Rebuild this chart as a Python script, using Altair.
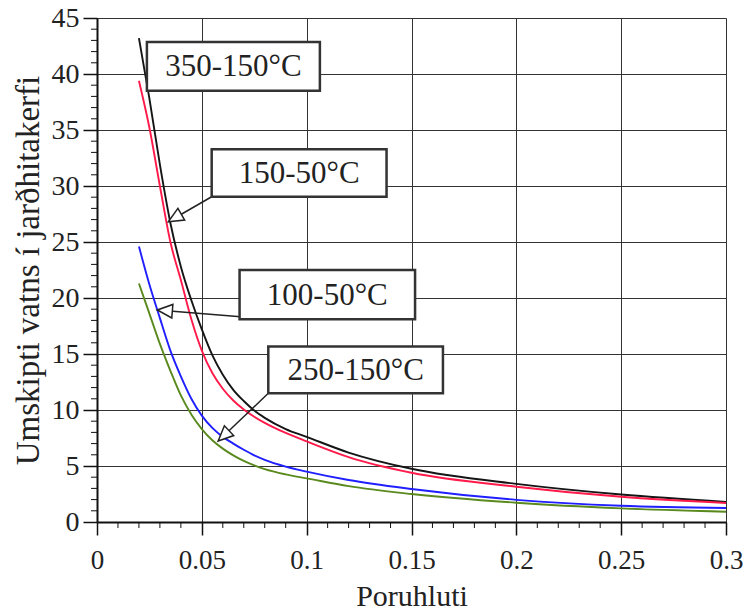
import math
import altair as alt
import pandas as pd

# ---------------- data ----------------
x_vals = [0.02, 0.025, 0.03, 0.035, 0.04, 0.045, 0.05, 0.055, 0.06, 0.065, 0.07,
          0.075, 0.08, 0.09, 0.10, 0.12, 0.15, 0.20, 0.25, 0.30]

series_names = ["350-150°C", "150-50°C", "100-50°C", "250-150°C"]
y_350_150 = [43.2, 37.8, 31.9, 26.7, 22.8, 19.8, 17.2, 14.9, 13.15, 11.8, 10.8,
             9.95, 9.3, 8.3, 7.6, 6.2, 4.75, 3.4, 2.45, 1.8]
y_150_50 = [39.4, 35.2, 30.0, 25.0, 21.6, 18.1, 15.3, 13.3, 11.9, 10.85, 10.05,
            9.4, 8.85, 7.95, 7.2, 5.8, 4.4, 3.15, 2.25, 1.7]
y_100_50 = [24.6, 21.2, 18.2, 15.3, 13.0, 11.0, 9.5, 8.4, 7.6, 7.0, 6.45,
            5.95, 5.55, 4.95, 4.5, 3.75, 2.95, 1.98, 1.45, 1.25]
y_250_150 = [21.3, 18.6, 15.9, 13.5, 11.3, 9.6, 8.3, 7.3, 6.55, 5.95, 5.45,
             5.05, 4.72, 4.25, 3.9, 3.2, 2.5, 1.72, 1.22, 0.92]
series_colors = ["#151515", "#ff1a4a", "#1f1fff", "#5a8a1e"]

x_ticks = [0, 0.05, 0.1, 0.15, 0.2, 0.25, 0.3]
y_ticks = [0, 5, 10, 15, 20, 25, 30, 35, 40, 45]
x_minor = [i / 100 for i in range(31) if i % 5 != 0]
y_minor = [i for i in range(46) if i % 5 != 0]

# annotation boxes (data coordinates)
ann_labels = ["350-150°C", "150-50°C", "100-50°C", "250-150°C"]
box_x1 = [0.0238, 0.0547, 0.0680, 0.0817]
box_x2 = [0.1063, 0.1381, 0.1517, 0.1650]
box_y1 = [42.86, 33.28, 22.5, 15.67]
box_y2 = [38.5, 29.04, 18.1, 11.49]

# arrows (from box corner to curve)
arr_x0 = [0.0547, 0.0685, 0.0817]
arr_y0 = [29.04, 18.33, 11.49]
arr_x1 = [0.0340, 0.0288, 0.0578]
arr_y1 = [26.81, 18.93, 7.23]

# ---------------- build ----------------
W, H = 629, 504
XMAX, YMAX = 0.3, 45

rows = []
for name, ys in zip(series_names, [y_350_150, y_150_50, y_100_50, y_250_150]):
    for xv, yv in zip(x_vals, ys):
        rows.append({"x": xv, "y": yv, "series": name})
df = pd.DataFrame(rows)

boxes = pd.DataFrame({
    "label": ann_labels, "x1": box_x1, "x2": box_x2, "y1": box_y1, "y2": box_y2,
    "xc": [(a + b) / 2 for a, b in zip(box_x1, box_x2)],
    "yc": [(a + b) / 2 for a, b in zip(box_y1, box_y2)],
})

kx, ky = W / XMAX, H / YMAX
angles = []
for a, b, c, d in zip(arr_x0, arr_y0, arr_x1, arr_y1):
    dx = (c - a) * kx
    dy = -(d - b) * ky
    angles.append(math.degrees(math.atan2(dx, -dy)) % 360)
arrows = pd.DataFrame({"x0": arr_x0, "y0": arr_y0, "x1": arr_x1, "y1": arr_y1,
                       "ang": angles})

xs = alt.Scale(domain=[0, XMAX], nice=False, zero=False)
ys_ = alt.Scale(domain=[0, YMAX], nice=False, zero=False)

FONT = "Liberation Serif, Times New Roman, Times, serif"

x_axis = alt.Axis(values=x_ticks, format=".2~f", title="Poruhluti",
                  tickSize=13, tickWidth=1.5, tickColor="#111",
                  domainColor="#111", domainWidth=2,
                  grid=True, gridColor="#333", gridWidth=1,
                  labelFont=FONT, labelFontSize=27, labelColor="#222", labelPadding=12,
                  titleFont=FONT, titleFontSize=30, titleFontWeight="normal",
                  titleColor="#222", titlePadding=8, labelFlush=False)
y_axis = alt.Axis(values=y_ticks, title="Umskipti vatns í jarðhitakerfi",
                  tickSize=14, tickWidth=1.5, tickColor="#111",
                  domainColor="#111", domainWidth=2,
                  grid=True, gridColor="#333", gridWidth=1,
                  labelFont=FONT, labelFontSize=28, labelColor="#222", labelPadding=4,
                  titleFont=FONT, titleFontSize=33, titleFontWeight="normal",
                  titleColor="#222", titlePadding=6, labelFlush=False)

lines = alt.Chart(df).mark_line(strokeWidth=1.9, interpolate="monotone", clip=True).encode(
    x=alt.X("x:Q", scale=xs, axis=x_axis),
    y=alt.Y("y:Q", scale=ys_, axis=y_axis),
    color=alt.Color("series:N", scale=alt.Scale(domain=series_names, range=series_colors),
                    legend=None),
    order="x:Q",
)

xminor = alt.Chart(pd.DataFrame({"v": x_minor})).mark_rule(color="#111", strokeWidth=1).encode(
    x=alt.X("v:Q", scale=xs), y=alt.value(H), y2=alt.value(H + 6))
yminor = alt.Chart(pd.DataFrame({"v": y_minor})).mark_rule(color="#111", strokeWidth=1).encode(
    y=alt.Y("v:Q", scale=ys_), x=alt.value(0), x2=alt.value(-6))

arrow_lines = alt.Chart(arrows).mark_rule(color="#222", strokeWidth=1.5).encode(
    x=alt.X("x0:Q", scale=xs), y=alt.Y("y0:Q", scale=ys_),
    x2="x1:Q", y2="y1:Q")

box_rects = alt.Chart(boxes).mark_rect(fill="white", stroke="#333", strokeWidth=2.5).encode(
    x=alt.X("x1:Q", scale=xs), x2="x2:Q", y=alt.Y("y1:Q", scale=ys_), y2="y2:Q")

box_text = alt.Chart(boxes).mark_text(font=FONT, fontSize=31, color="#222",
                                      align="center", baseline="middle", dy=1).encode(
    x=alt.X("xc:Q", scale=xs), y=alt.Y("yc:Q", scale=ys_), text="label:N")

heads = alt.Chart(arrows).mark_point(
    shape="M0,0 L-0.45,1 L0.45,1 Z", size=900, filled=True,
    fill="white", stroke="#222", strokeWidth=1.5, opacity=1, fillOpacity=1).encode(
    x=alt.X("x1:Q", scale=xs), y=alt.Y("y1:Q", scale=ys_), angle=alt.Angle("ang:Q", scale=None))

chart = alt.layer(lines, xminor, yminor, arrow_lines, box_rects, box_text, heads).properties(
    width=W, height=H,
    autosize=alt.AutoSizeParams(type="none"),
    padding={"left": 97, "top": 18, "right": 21, "bottom": 90},
).configure_view(stroke="#111", strokeWidth=2).configure(background="white")

chart.save("out.html", embed_options={"renderer": "svg", "actions": False})
